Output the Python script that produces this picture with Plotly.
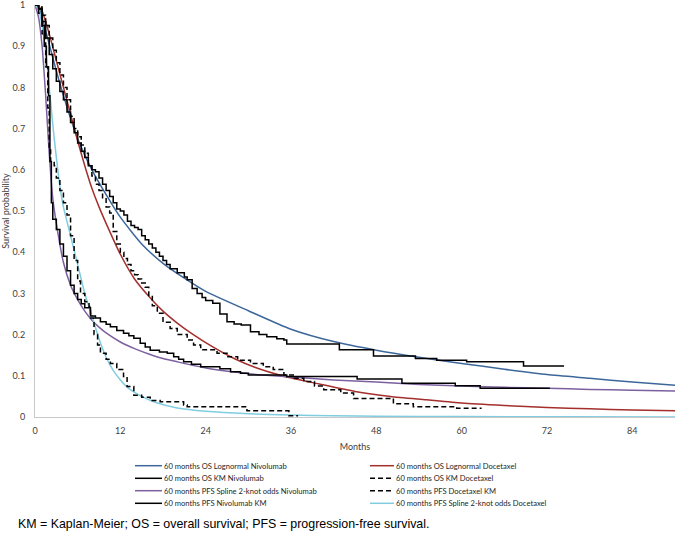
import plotly.graph_objects as go

# ---------------- data ----------------
os_ln_nivo_t = [0, 0.5, 1, 2, 3, 4, 5, 6, 8, 10, 12, 15, 18, 21, 24, 30, 36, 42, 48, 54, 60, 66, 72, 78, 84, 90]
os_ln_nivo_s = [1, 0.995, 0.97, 0.905, 0.84, 0.78, 0.725, 0.675, 0.6, 0.54, 0.485, 0.42, 0.373, 0.337, 0.305,
                0.258, 0.213, 0.183, 0.162, 0.145, 0.13, 0.116, 0.103, 0.094, 0.085, 0.077]

os_ln_doce_t = [0, 0.5, 1, 2, 3, 4, 5, 6, 7, 8, 9, 10, 12, 14, 16, 18, 20, 22, 25, 28, 31, 35, 40, 45, 50, 55,
                60, 66, 72, 78, 84, 90]
os_ln_doce_s = [1, 0.997, 0.985, 0.93, 0.865, 0.8, 0.735, 0.67, 0.61, 0.555, 0.51, 0.47, 0.395, 0.335, 0.293,
                0.257, 0.228, 0.203, 0.17, 0.142, 0.12, 0.099, 0.08, 0.062, 0.05, 0.042, 0.034, 0.028, 0.023,
                0.02, 0.017, 0.015]

os_km_nivo_t = [0, 0.5, 1, 1.5, 2, 2.5, 3, 3.5, 4, 4.5, 5, 5.5, 6, 6.5, 7, 7.5, 8, 8.5, 9, 9.5, 10, 10.5, 11,
                11.5, 12, 12.5, 13, 13.5, 14, 14.5, 15, 15.5, 16, 16.5, 17, 17.5, 18, 18.5, 19, 20, 21, 21.4,
                22.1, 22.8, 23.5, 24, 25, 26, 27, 28, 29, 30.3, 31.5, 32.6, 34, 35, 35.4, 42.8, 47.6, 53.5,
                56.5, 60.7, 68.7, 74.4]
os_km_nivo_s = [1, 0.99, 0.96, 0.92, 0.88, 0.845, 0.815, 0.79, 0.77, 0.74, 0.715, 0.69, 0.665, 0.645, 0.63,
                0.61, 0.6, 0.595, 0.58, 0.565, 0.55, 0.535, 0.52, 0.505, 0.5, 0.49, 0.475, 0.465, 0.46, 0.455,
                0.44, 0.43, 0.42, 0.41, 0.4, 0.39, 0.38, 0.37, 0.36, 0.35, 0.34, 0.333, 0.312, 0.3, 0.29, 0.283,
                0.276, 0.25, 0.231, 0.226, 0.223, 0.207, 0.2, 0.195, 0.19, 0.187, 0.177, 0.163, 0.148, 0.142,
                0.138, 0.134, 0.124, 0.124]

os_km_doce_t = [0, 0.5, 1, 1.5, 2, 2.5, 3, 3.5, 4, 4.5, 5, 5.5, 6, 6.5, 7, 7.5, 8, 8.5, 9, 9.5, 10, 10.5, 11,
                11.5, 12, 12.5, 13, 13.5, 14, 14.5, 15, 15.5, 16, 16.5, 17.2, 18, 19, 20, 21.4, 22.3, 23.3, 25.6,
                27, 28.5, 30.3, 32.1, 33.5, 35, 36.5, 37.8, 39.3, 40.6, 43, 44.8, 50.4, 53.2, 59.3, 62.8]
os_km_doce_s = [1, 0.995, 0.975, 0.95, 0.92, 0.89, 0.86, 0.83, 0.8, 0.77, 0.73, 0.7, 0.68, 0.66, 0.64, 0.61,
                0.585, 0.565, 0.55, 0.53, 0.51, 0.495, 0.45, 0.42, 0.4, 0.385, 0.37, 0.355, 0.345, 0.335, 0.325,
                0.315, 0.295, 0.27, 0.252, 0.23, 0.215, 0.2, 0.187, 0.175, 0.163, 0.155, 0.146, 0.138, 0.13,
                0.122, 0.115, 0.102, 0.094, 0.086, 0.075, 0.066, 0.058, 0.045, 0.032, 0.025, 0.021, 0.021]

pfs_sp_nivo_t = [0, 0.5, 1, 1.5, 2, 2.5, 3, 4, 5, 6, 7, 8, 9, 10, 12, 14, 16, 18, 20, 24, 28, 32, 36, 42, 48,
                 54, 60, 66, 72, 78, 84, 90]
pfs_sp_nivo_s = [1, 0.97, 0.9, 0.78, 0.64, 0.53, 0.47, 0.375, 0.32, 0.285, 0.257, 0.235, 0.218, 0.204, 0.182,
                 0.166, 0.153, 0.142, 0.134, 0.119, 0.109, 0.102, 0.097, 0.09, 0.085, 0.079, 0.075, 0.072, 0.07,
                 0.067, 0.065, 0.063]

pfs_km_doce_t = [0, 0.5, 1, 1.5, 1.8, 2.0, 2.2, 2.7, 3, 3.5, 4, 4.5, 5, 5.5, 6, 6.4, 7, 7.6, 7.8, 8.3, 8.8,
                 9.2, 10, 10.6, 11.5, 12.45, 12.95, 13.9, 15, 16.2, 17.6, 20.9, 21.4, 29.8, 35.7, 37]
pfs_km_doce_s = [1, 0.98, 0.93, 0.85, 0.75, 0.65, 0.62, 0.61, 0.58, 0.55, 0.52, 0.49, 0.44, 0.38, 0.33, 0.3,
                 0.28, 0.268, 0.24, 0.2, 0.175, 0.155, 0.14, 0.13, 0.115, 0.098, 0.074, 0.053, 0.048, 0.04,
                 0.037, 0.029, 0.025, 0.015, 0.003, 0.003]

pfs_km_nivo_t = [0, 0.5, 1, 1.3, 1.6, 1.9, 2.1, 2.3, 2.5, 3, 3.5, 4, 4.5, 5, 5.5, 6, 6.5, 7, 7.8, 8.5, 9.2, 10,
                 10.6, 11.5, 12.45, 13.2, 13.9, 14.8, 15.5, 16.2, 17.5, 18.6, 19.5, 20.2, 20.9, 22, 23.3, 26,
                 27.5, 28.9, 30, 35.4, 45.3, 51.6, 59.1, 62.6, 72.4]
pfs_km_nivo_s = [1, 0.99, 0.95, 0.9, 0.85, 0.78, 0.62, 0.52, 0.48, 0.455, 0.42, 0.39, 0.355, 0.32, 0.3, 0.285,
                 0.275, 0.265, 0.245, 0.24, 0.231, 0.225, 0.219, 0.21, 0.203, 0.197, 0.191, 0.179, 0.17, 0.162,
                 0.158, 0.155, 0.146, 0.14, 0.134, 0.128, 0.122, 0.117, 0.11, 0.106, 0.102, 0.098, 0.092, 0.082,
                 0.076, 0.07, 0.07]

pfs_sp_doce_t = [0, 0.5, 1, 1.5, 2, 2.5, 3, 3.5, 4, 5, 6, 7, 8, 9, 10, 11, 12, 13, 14, 15, 17, 20, 24, 30, 36,
                 42, 48, 60, 75, 90]
pfs_sp_doce_s = [1, 0.99, 0.95, 0.89, 0.8, 0.71, 0.63, 0.56, 0.51, 0.44, 0.37, 0.3, 0.245, 0.19, 0.145, 0.113,
                 0.09, 0.072, 0.06, 0.05, 0.035, 0.022, 0.014, 0.008, 0.005, 0.003, 0.002, 0.001, 0.0005, 0.0003]

x_ticks = [0, 12, 24, 36, 48, 60, 72, 84]
y_ticks = [0, 0.1, 0.2, 0.3, 0.4, 0.5, 0.6, 0.7, 0.8, 0.9, 1]
y_tick_labels = ["0", "0.1", "0.2", "0.3", "0.4", "0.5", "0.6", "0.7", "0.8", "0.9", "1"]

BLUE = "#3d679b"
RED = "#a3302d"
PURPLE = "#7d60a0"
CYAN = "#80cde0"
BLACK = "#000000"
DASH = "5px,3px"

# name, t, s, color, dash, shape
series = [
    ("60 months OS Lognormal Nivolumab", os_ln_nivo_t, os_ln_nivo_s, BLUE, "solid", "spline"),
    ("60 months OS Lognormal Docetaxel", os_ln_doce_t, os_ln_doce_s, RED, "solid", "spline"),
    ("60 months OS KM Nivolumab", os_km_nivo_t, os_km_nivo_s, BLACK, "solid", "hv"),
    ("60 months OS KM Docetaxel", os_km_doce_t, os_km_doce_s, BLACK, DASH, "hv"),
    ("60 months PFS Spline 2-knot odds Nivolumab", pfs_sp_nivo_t, pfs_sp_nivo_s, PURPLE, "solid", "spline"),
    ("60 months PFS Docetaxel KM", pfs_km_doce_t, pfs_km_doce_s, BLACK, DASH, "hv"),
    ("60 months PFS Nivolumab KM", pfs_km_nivo_t, pfs_km_nivo_s, BLACK, "solid", "hv"),
    ("60 months PFS Spline 2-knot odds Docetaxel", pfs_sp_doce_t, pfs_sp_doce_s, CYAN, "solid", "spline"),
]

# draw order: fitted curves under KM curves
draw_order = [0, 1, 4, 7, 2, 3, 5, 6]

fig = go.Figure()
for i in draw_order:
    name, t, s, col, dash, shp = series[i]
    line = dict(color=col, width=1.5, dash=dash, shape=shp)
    if shp == "spline":
        line["smoothing"] = 0.6
    fig.add_trace(go.Scatter(x=t, y=s, mode="lines", name=name, line=line, showlegend=False,
                             hoverinfo="name+x+y"))

W, H = 676, 533
ML, MR, MT, MB = 35, 1, 5, 116
PW, PH = W - ML - MR, H - MT - MB


def px_to_paper(px, py):
    return (px - ML) / PW, (H - MB - py) / PH


# manual two-column legend (Plotly's legend rows cannot be this tight)
shapes = []
annotations = []
col_x = [(135, 162), (370, 394)]
row_y = [465.7, 478.3, 490.7, 503.3]
for k, (name, t, s, col, dash, shp) in enumerate(series):
    r, c = k // 2, k % 2
    x0, x1 = col_x[c]
    y = row_y[r]
    px0, py0 = px_to_paper(x0, y)
    px1, _ = px_to_paper(x1, y)
    shapes.append(dict(type="line", xref="paper", yref="paper", x0=px0, x1=px1, y0=py0, y1=py0,
                       line=dict(color=col, width=1.5, dash=dash)))
    annotations.append(dict(xref="paper", yref="paper", x=px1, y=py0, text=name, showarrow=False,
                            xanchor="left", yanchor="middle", xshift=0,
                            font=dict(family="Lato", size=7.6, color="#262626")))

fx, fy = px_to_paper(16, 524)
annotations.append(dict(xref="paper", yref="paper", x=fx, y=fy,
                        text="KM = Kaplan-Meier; OS = overall survival; PFS = progression-free survival.",
                        showarrow=False, xanchor="left", yanchor="middle",
                        font=dict(family="Liberation Sans", size=12.4, color="#000000")))

fig.update_layout(
    width=W, height=H,
    margin=dict(l=ML, r=MR, t=MT, b=MB),
    paper_bgcolor="white", plot_bgcolor="white",
    showlegend=False,
    shapes=shapes,
    annotations=annotations,
    font=dict(family="Lato", size=9, color="#404040"),
)
fig.update_xaxes(
    range=[0, 90], tickvals=x_ticks, ticktext=[str(v) for v in x_ticks],
    showgrid=False, zeroline=False, showline=True, linecolor="#c8c8c8", linewidth=1,
    ticks="", ticklabelstandoff=5, ticklabeloverflow="allow",
    title=dict(text="Months", font=dict(family="Lato", size=9, color="#404040"), standoff=8),
    tickfont=dict(family="Lato", size=9, color="#404040"),
    automargin=False,
)
fig.update_yaxes(
    range=[0, 1], tickvals=y_ticks, ticktext=y_tick_labels,
    showgrid=False, zeroline=False, showline=True, linecolor="#c8c8c8", linewidth=1,
    ticks="", ticklabelstandoff=7, ticklabeloverflow="allow",
    title=dict(text="Survival probability", font=dict(family="Lato", size=9, color="#404040"), standoff=3),
    tickfont=dict(family="Lato", size=9, color="#404040"),
    automargin=False,
)

fig.write_html("out.html", config={"displayModeBar": False},
               post_script="document.body.style.margin='0px';")
